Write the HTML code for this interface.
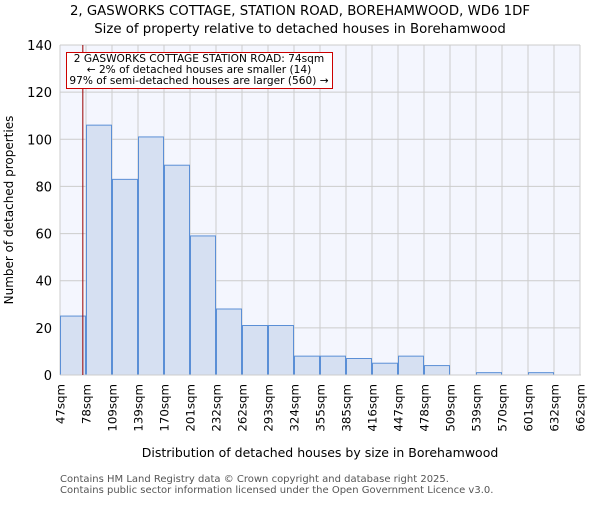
<!DOCTYPE html>
<html><head><meta charset="utf-8"><style>
body{margin:0;background:#fff;}
svg{font-family:"DejaVu Sans","Liberation Sans",sans-serif;}
</style></head><body>
<svg id="chart" width="600" height="500" xmlns="http://www.w3.org/2000/svg">
<text x="300" y="15" text-anchor="middle" font-size="13.3">2, GASWORKS COTTAGE, STATION ROAD, BOREHAMWOOD, WD6 1DF</text>
<text x="300" y="33" text-anchor="middle" font-size="13.3">Size of property relative to detached houses in Borehamwood</text>
<rect x="60" y="45" width="520" height="330" fill="#f4f6fe"/>
<g id="grid"></g>
<g id="bars"></g>
<g id="yticks"></g>
<g id="xticks"></g>
<line x1="60" y1="375" x2="581" y2="375" stroke="#ccc" stroke-width="1"/>
<line id="marker" y1="45" y2="375" stroke="#990000" stroke-width="1"/>
<rect x="66.5" y="52.5" width="266" height="36" fill="#fff" stroke="#cc0000" stroke-width="1"/>
<text x="199" y="62" text-anchor="middle" font-size="10.6">2 GASWORKS COTTAGE STATION ROAD: 74sqm</text>
<text x="199" y="73" text-anchor="middle" font-size="10.6">← 2% of detached houses are smaller (14)</text>
<text x="199" y="84" text-anchor="middle" font-size="10.6">97% of semi-detached houses are larger (560) →</text>
<text transform="translate(13,210) rotate(-90)" text-anchor="middle" font-size="12">Number of detached properties</text>
<text x="320" y="457" text-anchor="middle" font-size="12.5">Distribution of detached houses by size in Borehamwood</text>
<text x="60" y="482" font-size="10" fill="#555">Contains HM Land Registry data © Crown copyright and database right 2025.</text>
<text x="60" y="493" font-size="10" fill="#555">Contains public sector information licensed under the Open Government Licence v3.0.</text>
</svg>
<script>
const binLabels=["47sqm","78sqm","109sqm","139sqm","170sqm","201sqm","232sqm","262sqm","293sqm","324sqm","355sqm","385sqm","416sqm","447sqm","478sqm","509sqm","539sqm","570sqm","601sqm","632sqm","662sqm"];
const counts=[25,106,83,101,89,59,28,21,21,8,8,7,5,8,4,0,1,0,1,0];
const yTicks=[0,20,40,60,80,100,120,140];
const propertySize=74;
const binStart=47, binStep=30.75;
const X0=60,X1=580,Y0=375,Y1=45,YMAX=140;
const bw=(X1-X0)/counts.length;
const xs=i=>X0+i*bw;
const ys=v=>Y0-(v/YMAX)*(Y0-Y1);
const NS="http://www.w3.org/2000/svg";
function mk(t,a){const e=document.createElementNS(NS,t);for(const k in a)e.setAttribute(k,a[k]);return e;}
const grid=document.getElementById('grid'),bars=document.getElementById('bars'),yt=document.getElementById('yticks'),xt=document.getElementById('xticks');
yTicks.forEach(v=>{
 const l=mk('line',{x1:X0,x2:X1,y1:ys(v),y2:ys(v),stroke:'#cccccc'});
 
 
 grid.appendChild(l);
 const t=mk('text',{x:X0-8,y:ys(v)+5,'text-anchor':'end','font-size':'13'});
 t.textContent=v;
 
 
 yt.appendChild(t);
});
binLabels.forEach((lab,i)=>{
 const x=xs(i);
 const l=mk('line',{x1:x,x2:x,y1:Y1,y2:Y0,stroke:'#cccccc'});
 
 
 grid.appendChild(l);
 const t=mk('text',{transform:`translate(${x+4.5},384) rotate(-90)`,'text-anchor':'end','font-size':'11.8'});
 t.textContent=lab;
 
 
 xt.appendChild(t);
});
counts.forEach((c,i)=>{
 if(c<=0)return;
 const r=mk('rect',{x:xs(i)+0.5,y:ys(c),width:bw-1,height:Y0-ys(c),fill:'#d6e0f2',stroke:'#5b8fd6','stroke-width':'1'});
 
 
 bars.appendChild(r);
});
const mx=X0+(propertySize-binStart)/binStep*bw;
const m=document.getElementById('marker');m.setAttribute('x1',mx);m.setAttribute('x2',mx);
</script>
</body></html>
